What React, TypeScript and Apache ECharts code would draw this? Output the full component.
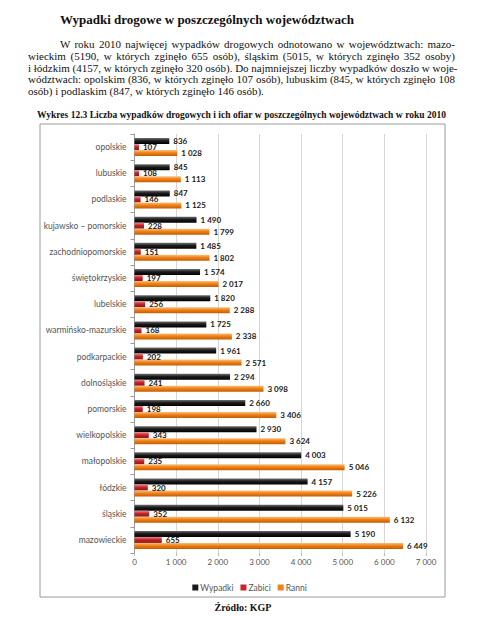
import React, { useEffect, useRef } from "react";
import * as echarts from "echarts";

const categories = [
  "opolskie",
  "lubuskie",
  "podlaskie",
  "kujawsko – pomorskie",
  "zachodniopomorskie",
  "świętokrzyskie",
  "lubelskie",
  "warmińsko-mazurskie",
  "podkarpackie",
  "dolnośląskie",
  "pomorskie",
  "wielkopolskie",
  "małopolskie",
  "łódzkie",
  "śląskie",
  "mazowieckie",
];
const wypadki = [836, 845, 847, 1490, 1485, 1574, 1820, 1725, 1961, 2294, 2660, 2930, 4003, 4157, 5015, 5190];
const zabici = [107, 108, 146, 228, 151, 197, 256, 168, 202, 241, 198, 343, 235, 320, 352, 655];
const ranni = [1028, 1113, 1125, 1799, 1802, 2017, 2288, 2338, 2571, 3098, 3406, 3624, 5046, 5226, 6132, 6449];
const seriesNames = ["Wypadki", "Zabici", "Ranni"];
const xTicks = { min: 0, max: 7000, interval: 1000 };

const heading = "Wypadki drogowe w poszczególnych województwach";
const paragraphLines = [
  "W roku 2010 najwięcej wypadków drogowych odnotowano w województwach: mazo-",
  "wieckim (5190, w których zginęło 655 osób), śląskim (5015, w których zginęło 352 osoby)",
  "i łódzkim (4157, w których zginęło 320 osób). Do najmniejszej liczby wypadków doszło w woje-",
  "wództwach: opolskim (836, w których zginęło 107 osób), lubuskim (845, w których zginęło 108",
  "osób) i podlaskim (847, w których zginęło 146 osób).",
];
const caption = "Wykres 12.3 Liczba wypadków drogowych i ich ofiar w poszczególnych województwach w roku 2010";
const source = "Źródło: KGP";

const fmt = (v: number) => String(v).replace(/\B(?=(\d{3})+(?!\d))/g, " ");

const grad = (a: string, b: string, c: string) =>
  new echarts.graphic.LinearGradient(0, 0, 0, 1, [
    { offset: 0, color: a },
    { offset: 0.45, color: b },
    { offset: 1, color: c },
  ]);

export default function App() {
  const ref = useRef<HTMLDivElement>(null);
  useEffect(() => {
    if (!ref.current) return;
    const chart = echarts.init(ref.current, undefined, { renderer: "svg" });
    const labelStyle = {
      show: true,
      position: "right" as const,
      distance: 4,
      fontSize: 8,
      fontWeight: "bold" as const,
      fontFamily: "Lato, 'DejaVu Sans', sans-serif",
      color: "#1a1a1a",
      formatter: (p: any) => fmt(p.value),
    };
    const colors = [
      grad("#707070", "#1c1c1c", "#000000"),
      grad("#ef8a8e", "#c4262c", "#8a1519"),
      grad("#fcc07a", "#f0801a", "#c25e00"),
    ];
    const legendColors = ["#1a1a1a", "#c4262c", "#f0801a"];
    const data = [wypadki, zabici, ranni];
    chart.setOption({
      animation: false,
      backgroundColor: "#ffffff",
      graphic: [
        {
          type: "rect",
          shape: { x: 40, y: 124, width: 405, height: 473 },
          style: { fill: "none", stroke: "#9a9a9a", lineWidth: 1 },
          z: -1,
        },
      ],
      grid: { left: 134.5, right: 73, top: 134, bottom: 64, containLabel: false },
      legend: {
        data: seriesNames.map((n, i) => ({ name: n, itemStyle: { color: legendColors[i] } })),
        left: "center",
        top: 578,
        itemWidth: 6,
        itemHeight: 6,
        itemGap: 7,
        icon: "rect",
        textStyle: { fontSize: 8.5, color: "#555", fontFamily: "Lato, sans-serif", padding: [0, 0, 0, -3] },
      },
      xAxis: {
        type: "value",
        min: xTicks.min,
        max: xTicks.max,
        interval: xTicks.interval,
        axisLine: { show: false },
        axisTick: { show: true, length: 3, lineStyle: { color: "#bbb" } },
        splitLine: { show: true, lineStyle: { color: "#d6d6d6", width: 1 } },
        axisLabel: {
          fontSize: 8,
          color: "#555",
          margin: 5,
          fontFamily: "Lato, sans-serif",
          formatter: (v: number) => fmt(v),
        },
      },
      yAxis: {
        type: "category",
        data: categories,
        inverse: true,
        axisLine: { show: true, lineStyle: { color: "#9a9a9a" } },
        axisTick: { show: true, length: 4, lineStyle: { color: "#9a9a9a" } },
        axisLabel: { fontSize: 8.5, color: "#555", margin: 8, fontFamily: "Lato, sans-serif" },
      },
      series: seriesNames.map((name, i) => ({
        name,
        type: "bar",
        data: data[i],
        barWidth: 6,
        barGap: "0%",
        itemStyle: { color: colors[i] },
        label: labelStyle,
      })),
    });
    return () => chart.dispose();
  }, []);

  const serif = "'Liberation Serif', 'Times New Roman', serif";
  return (
    <div style={{ position: "fixed", left: 0, top: 0, width: 499, height: 617, background: "#fff" }}>
      <div ref={ref} style={{ position: "absolute", left: 0, top: 0, width: 499, height: 617 }} />
      <div
        style={{
          position: "absolute",
          left: 60,
          top: 12,
          fontFamily: serif,
          fontWeight: "bold",
          fontSize: 13,
          lineHeight: "16px",
          color: "#111",
          whiteSpace: "nowrap",
        }}
      >
        {heading}
      </div>
      <div
        style={{
          position: "absolute",
          left: 28,
          top: 39,
          width: 427,
          fontFamily: serif,
          fontSize: 11,
          lineHeight: "11.75px",
          color: "#111",
        }}
      >
        {paragraphLines.map((l, i) => (
          <div
            key={i}
            style={{
              textAlign: "justify",
              textAlignLast: i < paragraphLines.length - 1 ? "justify" : "left",
              paddingLeft: i === 0 ? 32 : 0,
              whiteSpace: "nowrap",
              overflow: "visible",
            }}
          >
            {l}
          </div>
        ))}
      </div>
      <div
        style={{
          position: "absolute",
          left: 37,
          top: 109,
          width: 409,
          fontFamily: serif,
          fontWeight: "bold",
          fontSize: 9.5,
          lineHeight: "12px",
          color: "#111",
          textAlign: "justify",
          textAlignLast: "justify",
          whiteSpace: "nowrap",
        }}
      >
        {caption}
      </div>
      <div
        style={{
          position: "absolute",
          left: 0,
          width: 486,
          top: 602,
          textAlign: "center",
          fontFamily: serif,
          fontWeight: "bold",
          fontSize: 10,
          lineHeight: "12px",
          color: "#111",
        }}
      >
        {source}
      </div>
    </div>
  );
}
